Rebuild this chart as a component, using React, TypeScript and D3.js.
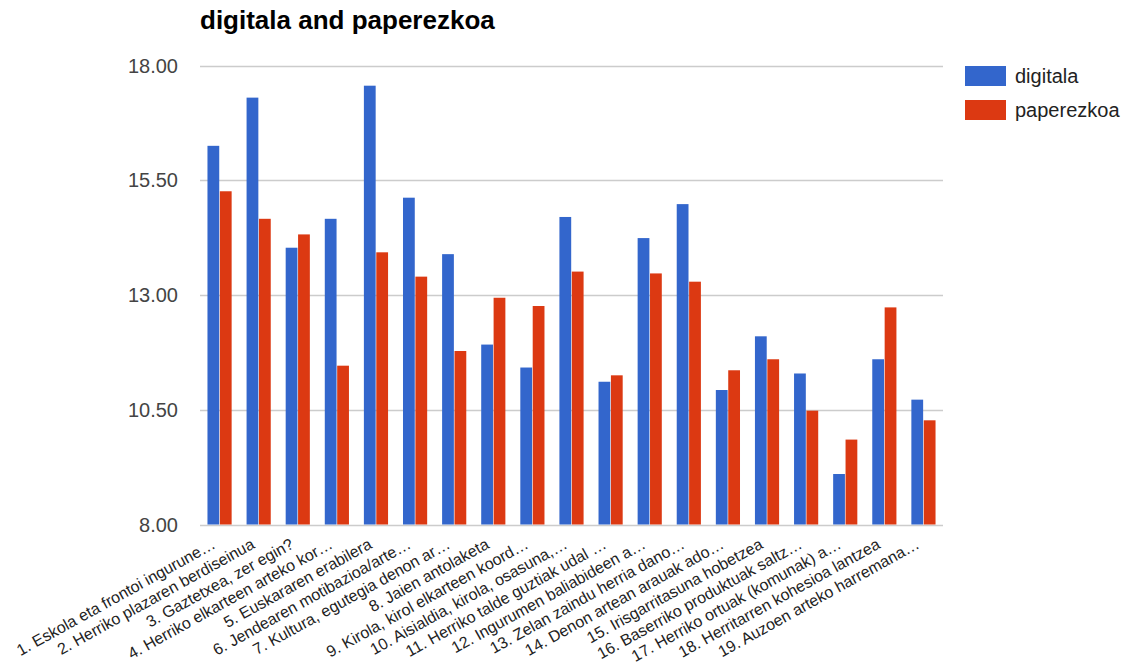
import { useEffect, useRef } from 'react';
import * as d3 from 'd3';

const categories = [
  '1. Eskola eta frontoi ingurune…',
  '2. Herriko plazaren berdiseinua',
  '3. Gaztetxea, zer egin?',
  '4. Herriko elkarteen arteko kor…',
  '5. Euskararen erabilera',
  '6. Jendearen motibazioa/arte…',
  '7. Kultura, egutegia denon ar…',
  '8. Jaien antolaketa',
  '9. Kirola, kirol elkarteen koord…',
  '10. Aisialdia, kirola, osasuna,…',
  '11. Herriko talde guztiak udal …',
  '12. Ingurumen baliabideen a…',
  '13. Zelan zaindu herria dano…',
  '14. Denon artean arauak ado…',
  '15. Irisgarritasuna hobetzea',
  '16. Baserriko produktuak saltz…',
  '17. Herriko ortuak (komunak) a…',
  '18. Herritarren kohesioa lantzea',
  '19. Auzoen arteko harremana…',
];

const digitala = [16.25, 17.3, 14.03, 14.66, 17.56, 15.12, 13.89, 11.92, 11.42, 14.7, 11.11, 14.24, 14.98, 10.93, 12.1, 11.29, 9.1, 11.6, 10.72];
const paperezkoa = [15.26, 14.66, 14.32, 11.46, 13.93, 13.4, 11.78, 12.94, 12.76, 13.51, 11.25, 13.47, 13.29, 11.36, 11.6, 10.48, 9.85, 12.73, 10.27];

const seriesNames = ['digitala', 'paperezkoa'];
const seriesColors = ['#3366cc', '#dc3912'];
const yTicks = [8, 10.5, 13, 15.5, 18];

const App = () => {
  const chartRef = useRef<SVGSVGElement | null>(null);

  useEffect(() => {
    if (!chartRef.current) return;
    document.body.style.margin = '0';
    const svg = d3.select(chartRef.current);
    svg.selectAll('*').remove();

    const font = 'Arial, "Liberation Sans", sans-serif';
    const left = 200, right = 943, top = 65.5, bottom = 524.5;

    const x0 = d3.scaleBand<string>()
      .domain(categories)
      .range([left, right])
      .paddingInner(0.382)
      .paddingOuter(0.191);

    const x1 = d3.scaleBand<string>()
      .domain(seriesNames)
      .range([0, x0.bandwidth()])
      .paddingInner(0.05);

    const y = d3.scaleLinear().domain([8, 18]).range([bottom, top]);

    // title
    svg.append('text')
      .attr('x', left)
      .attr('y', 29)
      .attr('font-family', font)
      .attr('font-weight', 'bold')
      .attr('font-size', 26)
      .attr('fill', '#000')
      .text('digitala and paperezkoa');

    // gridlines + y labels
    const grid = svg.append('g');
    yTicks.forEach(t => {
      grid.append('line')
        .attr('x1', left).attr('x2', right)
        .attr('y1', Math.round(y(t)) + 0.5).attr('y2', Math.round(y(t)) + 0.5)
        .attr('stroke', '#cccccc')
        .attr('stroke-width', 1.5);
      grid.append('text')
        .attr('x', 178)
        .attr('y', y(t))
        .attr('dy', '0.36em')
        .attr('text-anchor', 'end')
        .attr('font-family', font)
        .attr('font-size', 20)
        .attr('fill', '#444')
        .text(d3.format('.2f')(t));
    });

    // bars
    const data = categories.map((c, i) => ({ c, vals: [digitala[i], paperezkoa[i]] }));
    const groups = svg.append('g')
      .selectAll('g')
      .data(data)
      .join('g')
      .attr('transform', d => `translate(${x0(d.c)},0)`);

    groups.selectAll('rect')
      .data(d => d.vals.map((v, k) => ({ key: seriesNames[k], v, k })))
      .join('rect')
      .attr('x', d => x1(d.key) as number)
      .attr('y', d => y(d.v))
      .attr('width', x1.bandwidth())
      .attr('height', d => y(8) - y(d.v))
      .attr('fill', d => seriesColors[d.k]);

    // x labels
    const labels = svg.append('g');
    categories.forEach(c => {
      const cx = (x0(c) as number) + x0.bandwidth() / 2 - 3;
      labels.append('text')
        .attr('transform', `translate(${cx},${bottom + 23}) rotate(-29)`)
        .attr('text-anchor', 'end')
        .attr('font-family', font)
        .attr('font-size', 16)
        .attr('fill', '#222')
        .text(c);
    });

    // legend
    const legend = svg.append('g').attr('transform', 'translate(965,66)');
    seriesNames.forEach((s, i) => {
      legend.append('rect')
        .attr('x', 0).attr('y', i * 34)
        .attr('width', 41).attr('height', 20)
        .attr('fill', seriesColors[i]);
      legend.append('text')
        .attr('x', 50).attr('y', i * 34 + 10)
        .attr('dy', '0.35em')
        .attr('font-family', font)
        .attr('font-size', 20)
        .attr('fill', '#222')
        .text(s);
    });
  }, []);

  return (
    <div style={{ width: 1127, height: 668 }}>
      <svg ref={chartRef} width={1127} height={668}></svg>
    </div>
  );
};

export default App;
